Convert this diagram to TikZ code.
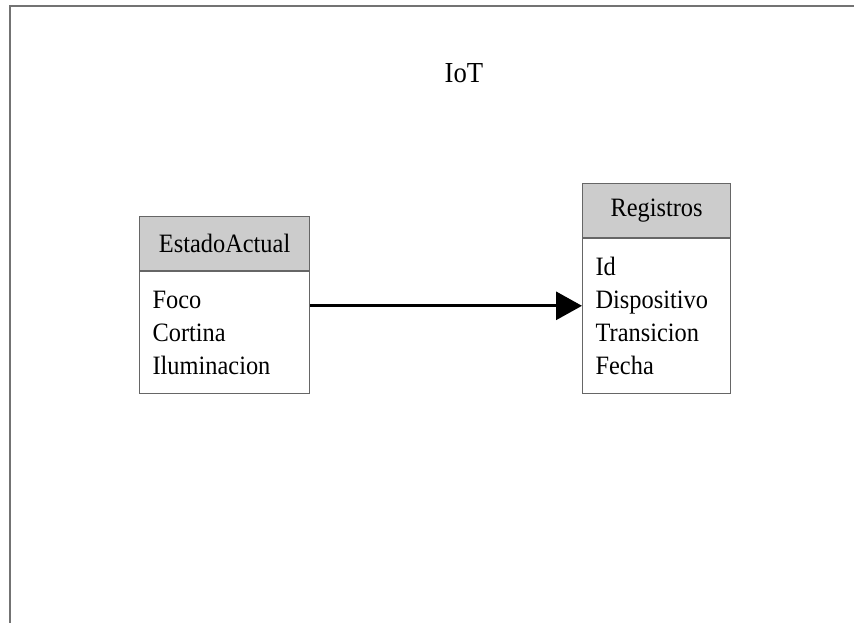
\documentclass[tikz,border=0pt]{standalone}
\usepackage{fontspec}
\setmainfont{Liberation Serif}[FakeStretch=0.92]
\usepackage{tikz}
\usetikzlibrary{positioning, arrows.meta}

\begin{document}
\begin{tikzpicture}[
  x=1pt, y=-1pt,
  every node/.style={font=\fontsize{26.5}{33}\selectfont, inner sep=0pt},
  titolo/.style={
    rectangle, draw=black!60, line width=1.2pt,
    fill=black!20, minimum height=54pt
  },
  corpo/.style={
    rectangle, draw=black!60, line width=1.2pt,
    fill=white, align=left, inner xsep=13pt
  }
]
\useasboundingbox (0,0) rectangle (854,623);
% cornice della pagina
\draw[black!55, line width=2pt] (10,623) -- (10,6) -- (854,6);

\node[font=\fontsize{29}{33}\selectfont] (iot) at (464,73) {IoT};

% entita
\node[titolo, minimum width=170pt, anchor=north west] (estado) at (139,216) {EstadoActual};
\node[corpo, below=0pt of estado, minimum width=170pt, minimum height=122pt,
      text width=144pt] (estadoCampi) {Foco\\Cortina\\Iluminacion};

\node[titolo, minimum width=148pt, anchor=north west] (registros) at (582,183) {Registros};
\node[corpo, below=0pt of registros, minimum width=148pt, minimum height=155pt,
      text width=122pt] (registrosCampi) {Id\\Dispositivo\\Transicion\\Fecha};

% relazione
\coordinate (partenza) at ([yshift=27pt]estadoCampi.east);
\draw[line width=3pt, -{Triangle[length=26pt, width=28pt]}]
  (partenza) -- (registrosCampi.west |- partenza);
\end{tikzpicture}
\end{document}
